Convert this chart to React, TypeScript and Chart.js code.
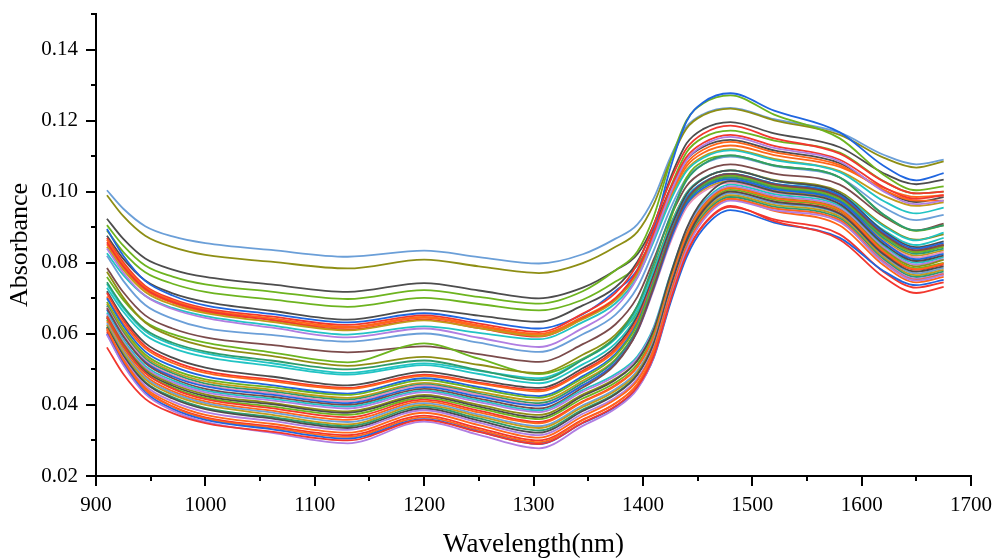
import React, { useEffect, useRef } from 'react';
import { Chart, registerables } from 'chart.js';

Chart.register(...registerables);

// Wavelength sample points (nm)
const WAVELENGTHS = [910, 925, 945, 970, 1000, 1060, 1130, 1200, 1250, 1305, 1345, 1375, 1395, 1410, 1425, 1440, 1455, 1480, 1520, 1580, 1620, 1650, 1675];

const X_TICKS = [900, 1000, 1100, 1200, 1300, 1400, 1500, 1600, 1700];
const X_MINOR = [950, 1050, 1150, 1250, 1350, 1450, 1550, 1650];
const Y_TICKS = [0.02, 0.04, 0.06, 0.08, 0.1, 0.12, 0.14];
const Y_MINOR = [0.03, 0.05, 0.07, 0.09, 0.11, 0.13, 0.15];

// Absorbance spectra (one array per sample)
const s01 = [.1004,.0952,.0903,.0874,.0855,.0836,.0817,.0834,.0816,.0798,.0824,.0868,.0908,.0982,.1096,.1183,.1218,.1236,.1204,.1166,.1104,.1077,.1090];
const s02 = [.0990,.0931,.0876,.0844,.0822,.0803,.0784,.0809,.0790,.0771,.0799,.0845,.0887,.0965,.1086,.1178,.1215,.1234,.1201,.1160,.1096,.1068,.1085];
const s03 = [.0924,.0867,.0812,.0781,.0760,.0739,.0718,.0743,.0722,.0700,.0730,.0779,.0824,.0908,.1037,.1136,.1176,.1196,.1164,.1125,.1052,.1021,.1034];
const s04 = [.0906,.0848,.0792,.0761,.0739,.0719,.0698,.0723,.0704,.0685,.0720,.0779,.0832,.0931,.1083,.1201,.1248,.1271,.1217,.1150,.1048,.1004,.1015];
const s05 = [.0891,.0830,.0773,.0741,.0718,.0697,.0676,.0701,.0684,.0666,.0696,.0747,.0793,.0879,.1010,.1111,.1152,.1172,.1144,.1110,.1030,.0995,.1000];
const s06 = [.0876,.0811,.0750,.0714,.0690,.0665,.0640,.0668,.0651,.0634,.0680,.0731,.0803,.0900,.1008,.1090,.1126,.1146,.1116,.1080,.1004,.0971,.0985];
const s07 = [.0895,.0820,.0749,.0708,.0680,.0656,.0632,.0658,.0637,.0615,.0655,.0721,.0781,.0893,.1065,.1198,.1251,.1277,.1228,.1167,.1073,.1032,.1052];
const s08 = [.0870,.0801,.0735,.0698,.0672,.0649,.0625,.0652,.0629,.0605,.0657,.0715,.0797,.0907,.1029,.1122,.1163,.1186,.1150,.1107,.1029,.0995,.1000];
const s09 = [.0865,.0796,.0731,.0694,.0668,.0644,.0620,.0648,.0624,.0600,.0648,.0701,.0775,.0876,.0987,.1072,.1109,.1130,.1103,.1070,.1011,.0985,.0990];
const s10 = [.0852,.0786,.0723,.0687,.0662,.0640,.0617,.0645,.0621,.0596,.0645,.0699,.0776,.0879,.0993,.1080,.1118,.1140,.1111,.1075,.1005,.0975,.0975];
const s11 = [.0858,.0790,.0727,.0690,.0665,.0639,.0612,.0640,.0616,.0592,.0643,.0700,.0779,.0887,.1007,.1098,.1137,.1160,.1129,.1090,.1013,.0980,.0990];
const s12 = [.0845,.0780,.0718,.0682,.0658,.0634,.0610,.0638,.0616,.0594,.0641,.0694,.0768,.0868,.0978,.1062,.1099,.1120,.1092,.1058,.0989,.0960,.0970];
const s13 = [.0827,.0765,.0707,.0673,.0650,.0624,.0598,.0621,.0603,.0585,.0633,.0686,.0760,.0861,.0973,.1058,.1095,.1116,.1089,.1055,.0974,.0939,.0955];
const s14 = [.0840,.0772,.0707,.0670,.0645,.0618,.0590,.0615,.0589,.0563,.0616,.0675,.0758,.0870,.0994,.1089,.1130,.1154,.1123,.1085,.1001,.0965,.0975];
const s15 = [.0820,.0749,.0681,.0643,.0616,.0597,.0578,.0601,.0575,.0549,.0599,.0654,.0731,.0835,.0951,.1039,.1077,.1099,.1072,.1040,.0956,.0920,.0935];
const s16 = [.0785,.0717,.0652,.0615,.0590,.0569,.0548,.0565,.0543,.0521,.0571,.0627,.0704,.0810,.0927,.1016,.1055,.1077,.1051,.1020,.0930,.0891,.0910];
const s17 = [.0760,.0695,.0634,.0599,.0575,.0548,.0520,.0573,.0530,.0487,.0530,.0590,.0660,.0760,.0920,.1040,.1085,.1102,.1074,.1040,.0935,.0890,.0905];
const s18 = [.0775,.0702,.0632,.0592,.0565,.0538,.0510,.0535,.0513,.0490,.0541,.0598,.0678,.0786,.0906,.0997,.1037,.1060,.1033,.1000,.0906,.0865,.0880];
const s19 = [.0740,.0672,.0607,.0570,.0545,.0518,.0490,.0517,.0496,.0475,.0528,.0586,.0668,.0779,.0902,.0996,.1037,.1060,.1031,.0995,.0903,.0863,.0885];
const s20 = [.0730,.0662,.0597,.0560,.0535,.0510,.0485,.0512,.0487,.0461,.0514,.0573,.0655,.0767,.0891,.0985,.1026,.1050,.1023,.0990,.0892,.0850,.0870];
const s21 = [.0745,.0677,.0612,.0575,.0550,.0525,.0500,.0525,.0498,.0470,.0527,.0590,.0679,.0799,.0931,.1032,.1077,.1102,.1074,.1040,.0936,.0891,.0905];
const s22 = [.0720,.0645,.0574,.0533,.0505,.0480,.0455,.0493,.0470,.0448,.0503,.0564,.0650,.0766,.0895,.0993,.1036,.1060,.1031,.0995,.0889,.0844,.0860];
const s23 = [.0715,.0638,.0565,.0524,.0495,.0471,.0448,.0485,.0463,.0442,.0496,.0557,.0641,.0756,.0882,.0979,.1021,.1045,.1018,.0985,.0880,.0835,.0850];
const s24 = [.0705,.0630,.0559,.0518,.0490,.0467,.0445,.0482,.0460,.0438,.0492,.0552,.0637,.0751,.0877,.0974,.1016,.1040,.1013,.0980,.0875,.0830,.0848];
const s25 = [.0700,.0623,.0550,.0509,.0480,.0456,.0432,.0475,.0450,.0425,.0481,.0544,.0631,.0750,.0881,.0981,.1025,.1050,.1023,.0990,.0885,.0840,.0855];
const s26 = [.0690,.0614,.0542,.0500,.0472,.0450,.0428,.0470,.0445,.0420,.0476,.0539,.0626,.0745,.0876,.0976,.1020,.1045,.1016,.0980,.0875,.0830,.0845];
const s27 = [.0685,.0608,.0536,.0494,.0466,.0443,.0420,.0462,.0437,.0412,.0468,.0529,.0616,.0733,.0863,.0962,.1005,.1030,.1003,.0970,.0865,.0820,.0835];
const s28 = [.0680,.0603,.0530,.0489,.0460,.0438,.0415,.0458,.0432,.0405,.0462,.0526,.0615,.0735,.0869,.0970,.1015,.1040,.1011,.0975,.0870,.0825,.0840];
const s29 = [.0675,.0598,.0525,.0484,.0455,.0433,.0410,.0455,.0428,.0400,.0456,.0519,.0606,.0725,.0856,.0956,.1000,.1025,.0998,.0965,.0860,.0815,.0830];
const s30 = [.0668,.0592,.0521,.0480,.0452,.0429,.0405,.0450,.0424,.0398,.0455,.0519,.0608,.0729,.0863,.0965,.1010,.1035,.1007,.0972,.0859,.0810,.0825];
const s31 = [.0672,.0593,.0518,.0475,.0445,.0423,.0400,.0445,.0418,.0390,.0449,.0515,.0608,.0733,.0872,.0977,.1024,.1050,.1021,.0985,.0880,.0835,.0850];
const s32 = [.0660,.0583,.0510,.0469,.0440,.0418,.0395,.0440,.0413,.0385,.0442,.0487,.0537,.0620,.0766,.0893,.0969,.1020,.0993,.0960,.0848,.0800,.0815];
const s33 = [.0655,.0578,.0505,.0464,.0435,.0413,.0390,.0436,.0408,.0380,.0437,.0482,.0532,.0615,.0761,.0888,.0964,.1015,.0988,.0955,.0843,.0795,.0810];
const s34 = [.0650,.0573,.0500,.0459,.0430,.0406,.0382,.0428,.0400,.0372,.0429,.0474,.0525,.0608,.0755,.0882,.0959,.1010,.0983,.0950,.0838,.0790,.0808];
const s35 = [.0645,.0568,.0495,.0454,.0425,.0402,.0378,.0425,.0395,.0365,.0425,.0471,.0525,.0611,.0764,.0897,.0977,.1030,.1001,.0965,.0853,.0805,.0820];
const s36 = [.0640,.0563,.0490,.0449,.0420,.0396,.0372,.0420,.0390,.0360,.0418,.0463,.0515,.0599,.0747,.0876,.0953,.1005,.0978,.0945,.0833,.0785,.0800];
const s37 = [.0648,.0567,.0490,.0446,.0416,.0391,.0365,.0415,.0384,.0352,.0410,.0456,.0508,.0592,.0741,.0870,.0948,.1000,.0973,.0940,.0828,.0780,.0795];
const s38 = [.0635,.0556,.0482,.0439,.0410,.0384,.0358,.0410,.0379,.0348,.0408,.0454,.0507,.0593,.0745,.0878,.0957,.1010,.0982,.0948,.0832,.0782,.0798];
const s39 = [.0630,.0551,.0477,.0434,.0405,.0379,.0352,.0405,.0373,.0340,.0399,.0445,.0497,.0582,.0733,.0864,.0943,.0995,.0968,.0935,.0820,.0770,.0785];
const s40 = [.0625,.0546,.0472,.0429,.0400,.0373,.0345,.0400,.0368,.0335,.0394,.0440,.0492,.0577,.0728,.0859,.0938,.0990,.0963,.0930,.0815,.0765,.0780];
const s41 = [.0620,.0540,.0465,.0422,.0392,.0366,.0340,.0395,.0362,.0328,.0387,.0433,.0486,.0571,.0722,.0854,.0932,.0985,.0958,.0925,.0810,.0760,.0775];
const s42 = [.0618,.0538,.0462,.0418,.0388,.0362,.0335,.0390,.0356,.0322,.0383,.0430,.0485,.0573,.0729,.0864,.0946,.1000,.0972,.0938,.0824,.0775,.0790];
const s43 = [.0612,.0531,.0454,.0410,.0380,.0355,.0330,.0385,.0350,.0315,.0375,.0421,.0475,.0561,.0714,.0847,.0927,.0980,.0953,.0920,.0805,.0755,.0770];
const s44 = [.0610,.0527,.0448,.0403,.0372,.0347,.0322,.0378,.0343,.0308,.0368,.0416,.0469,.0557,.0711,.0846,.0926,.0980,.0953,.0920,.0802,.0752,.0768];
const s45 = [.0605,.0521,.0442,.0396,.0365,.0340,.0315,.0370,.0335,.0300,.0359,.0405,.0458,.0543,.0694,.0826,.0904,.0957,.0922,.0880,.0775,.0730,.0745];
const s46 = [.0615,.0526,.0443,.0395,.0362,.0336,.0310,.0365,.0330,.0295,.0357,.0405,.0459,.0548,.0706,.0843,.0925,.0980,.0946,.0905,.0793,.0745,.0760];
const s47 = [.0600,.0515,.0435,.0389,.0358,.0332,.0305,.0360,.0325,.0290,.0349,.0395,.0448,.0533,.0685,.0816,.0895,.0948,.0913,.0870,.0777,.0737,.0752];
const s48 = [.0598,.0512,.0431,.0384,.0352,.0322,.0292,.0353,.0316,.0278,.0341,.0390,.0445,.0536,.0696,.0836,.0919,.0975,.0948,.0915,.0800,.0750,.0765];
const s49 = [.0562,.0487,.0417,.0377,.0349,.0325,.0300,.0358,.0324,.0290,.0350,.0397,.0451,.0538,.0692,.0826,.0906,.0960,.0917,.0865,.0760,.0715,.0732];

const C = {
  LB: '#6b9fd8', OL: '#8e8e14', DG: '#4d4d4d', GR: '#6db41f', BL: '#1f66e0', RD: '#f2372e',
  OR: '#ff661a', PU: '#b07ee2', CY: '#22c4c4', BR: '#7b4b4b', TE: '#2e9c6c', GO: '#c39a1a', PK: '#e88fb8',
};

const SERIES: [number[], string][] = [
  [s49, C.RD], [s48, C.PU], [s47, C.BL], [s46, C.OR], [s45, C.RD], [s44, C.OR], [s43, C.PU], [s42, C.DG],
  [s41, C.TE], [s40, C.GO], [s39, C.LB], [s38, C.OR], [s37, C.RD], [s36, C.GR], [s35, C.DG], [s34, C.OL],
  [s33, C.PU], [s32, C.CY], [s31, C.BR], [s30, C.BL], [s29, C.PK], [s28, C.TE], [s27, C.GO], [s26, C.GR],
  [s25, C.BL], [s24, C.OR], [s23, C.RD], [s22, C.DG], [s21, C.TE], [s20, C.CY], [s19, C.CY], [s18, C.OL],
  [s17, C.GR], [s16, C.BR], [s15, C.LB], [s14, C.PU], [s13, C.CY], [s12, C.GO], [s11, C.RD], [s10, C.OR],
  [s09, C.OR], [s08, C.RD], [s07, C.BL], [s06, C.DG], [s05, C.GR], [s04, C.GR], [s03, C.DG], [s02, C.OL],
  [s01, C.LB],
];

const FONT = 'Liberation Serif, Times New Roman, serif';

const minorTicks = {
  id: 'minorTicks',
  afterDraw(chart: any) {
    const { ctx, chartArea, scales } = chart;
    ctx.save();
    ctx.strokeStyle = '#000';
    ctx.lineWidth = 2;
    ctx.beginPath();
    X_MINOR.forEach((v) => {
      const px = Math.round(scales.x.getPixelForValue(v));
      ctx.moveTo(px, chartArea.bottom);
      ctx.lineTo(px, chartArea.bottom + 5);
    });
    Y_MINOR.forEach((v) => {
      const py = Math.round(scales.y.getPixelForValue(v));
      ctx.moveTo(chartArea.left, py);
      ctx.lineTo(chartArea.left - 5, py);
    });
    ctx.stroke();
    ctx.restore();
  },
};

export default function App() {
  const ref = useRef<HTMLCanvasElement | null>(null);
  useEffect(() => {
    if (!ref.current) return;
    const chart = new Chart(ref.current, {
      type: 'line',
      data: {
        datasets: SERIES.map(([vals, color]) => ({
          data: WAVELENGTHS.map((x, i) => ({ x, y: vals[i] })),
          borderColor: color,
          borderWidth: 1.8,
          pointRadius: 0,
          fill: false,
          cubicInterpolationMode: 'monotone' as const,
        })),
      },
      options: {
        animation: false,
        responsive: true,
        maintainAspectRatio: false,
        devicePixelRatio: 1,
        layout: { padding: { left: 0, right: 24, top: 14, bottom: 0 } },
        plugins: { legend: { display: false }, tooltip: { enabled: false } },
        scales: {
          x: {
            type: 'linear',
            min: 900,
            max: 1700,
            afterBuildTicks: (s: any) => { s.ticks = X_TICKS.map((v) => ({ value: v })); },
            afterFit: (s: any) => { s.height = 83; s.paddingLeft = 0; s.paddingRight = 0; },
            grid: { drawOnChartArea: false, drawTicks: true, tickLength: 10, color: '#000', lineWidth: 2 },
            border: { display: true, color: '#000', width: 2 },
            ticks: { color: '#000', font: { family: FONT, size: 21 }, padding: 7, maxRotation: 0, autoSkip: false, callback: (v: any) => String(v) },
            title: { display: true, text: 'Wavelength(nm)', color: '#000', font: { family: FONT, size: 27, lineHeight: 1 }, padding: { top: 0, bottom: 1 } },
          },
          y: {
            type: 'linear',
            min: 0.02,
            max: 0.15,
            afterBuildTicks: (s: any) => { s.ticks = Y_TICKS.map((v) => ({ value: v })); },
            afterFit: (s: any) => { s.width = 96; s.paddingTop = 0; s.paddingBottom = 0; },
            grid: { drawOnChartArea: false, drawTicks: true, tickLength: 10, color: '#000', lineWidth: 2 },
            border: { display: true, color: '#000', width: 2 },
            ticks: { color: '#000', font: { family: FONT, size: 21 }, padding: 8, callback: (v: any) => Number(v).toFixed(2) },
            title: { display: true, text: 'Absorbance', color: '#000', font: { family: FONT, size: 26, lineHeight: 1 }, padding: { top: 7, bottom: 0 } },
          },
        },
      },
      plugins: [minorTicks],
    } as any);
    return () => chart.destroy();
  }, []);
  return (
    <div style={{ position: 'absolute', left: 0, top: 0, width: 995, height: 559, background: '#fff' }}>
      <canvas ref={ref} />
    </div>
  );
}
